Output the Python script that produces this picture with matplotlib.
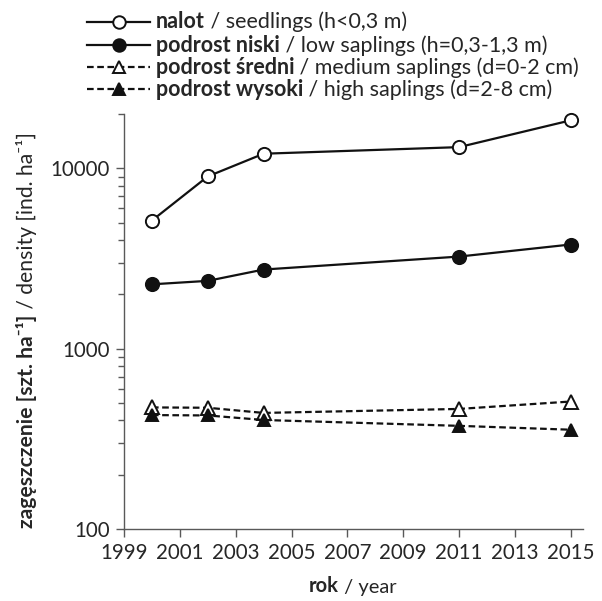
import matplotlib
matplotlib.use("Agg")
import matplotlib.pyplot as plt
from matplotlib.lines import Line2D
from matplotlib.ticker import FixedLocator, LogLocator, NullFormatter

plt.rcParams['font.family'] = ['Lato', 'DejaVu Sans']

# data
years = [2000, 2002, 2004, 2011, 2015]
seedlings = [5140, 9030, 12070, 13130, 18490]
low_saplings = [2275, 2378, 2748, 3243, 3784]
medium_saplings = [472, 470, 440, 463, 509]
high_saplings = [428, 426, 402, 373, 355]

series_bold = ['nalot', 'podrost niski', 'podrost średni', 'podrost wysoki']
series_rest = [' / seedlings (h<0,3 m)', ' / low saplings (h=0,3-1,3 m)',
               ' / medium saplings (d=0-2 cm)', ' / high saplings (d=2-8 cm)']
x_ticks = [1999, 2001, 2003, 2005, 2007, 2009, 2011, 2013, 2015]
y_ticks = [100, 1000, 10000]

ink = '#111111'
axis_col = '#595959'
text_col = '#262626'

styles = [
    dict(ls='-', marker='o', mfc='white'),
    dict(ls='-', marker='o', mfc=ink),
    dict(ls=(0, (3, 1.6)), marker='^', mfc='white'),
    dict(ls=(0, (3, 1.6)), marker='^', mfc=ink),
]
msizes = [9.5, 9.5, 9.5, 9.0]

fig = plt.figure(figsize=(6.02, 6.01), dpi=100)
ax = fig.add_axes([0.206, 0.120, 0.762, 0.690])

for vals, st, ms in zip([seedlings, low_saplings, medium_saplings, high_saplings], styles, msizes):
    ax.plot(years, vals, color=ink, lw=1.6, linestyle=st['ls'], marker=st['marker'],
            markersize=ms, markerfacecolor=st['mfc'], markeredgecolor=ink,
            markeredgewidth=1.4, clip_on=False, zorder=3)

ax.set_yscale('log')
ax.set_ylim(100, 20000)
ax.set_xlim(1999, 2015.43)
ax.xaxis.set_major_locator(FixedLocator(x_ticks))
ax.yaxis.set_major_locator(FixedLocator(y_ticks))
ax.set_yticklabels([str(v) for v in y_ticks])
ax.yaxis.set_minor_locator(LogLocator(base=10, subs=range(2, 10)))
ax.yaxis.set_minor_formatter(NullFormatter())

for s in ['top', 'right']:
    ax.spines[s].set_visible(False)
for s in ['left', 'bottom']:
    ax.spines[s].set_color(axis_col)
    ax.spines[s].set_linewidth(1.0)
ax.tick_params(axis='both', which='major', direction='out', length=6, width=1.0,
               color=axis_col, labelsize=14.8, labelcolor=text_col, pad=4)
ax.tick_params(axis='y', which='minor', direction='out', length=4, width=1.0, color=axis_col)

# x label (bold + normal)
xl = fig.text(0.0, 0.0, 'rok', fontsize=14.5, fontweight='bold', color=text_col,
              ha='left', va='baseline')
xr = ax.annotate(' / year', xy=(1, 0), xycoords=xl, ha='left', va='bottom',
                 fontsize=14.5, color=text_col)
fig.canvas.draw()
r = fig.canvas.get_renderer()
w1 = xl.get_window_extent(r).width
w2 = xr.get_window_extent(r).width
xl.set_position(((353 - (w1 + w2) / 2) / 602, 1 - 592 / 601))

# y label (bold + normal), rotated
yl = fig.text(0.0, 0.0, 'zagęszczenie [szt. ha⁻¹]', fontsize=15.2, fontweight='bold',
              color=text_col, rotation=90, ha='center', va='bottom')
yr = ax.annotate(' / density [ind. ha⁻¹]', xy=(0.5, 1), xycoords=yl, ha='center',
                 va='bottom', rotation=90, fontsize=15.2, color=text_col)
fig.canvas.draw()
h1 = yl.get_window_extent(r).height
h2 = yr.get_window_extent(r).height
yl.set_position((27 / 602, (601 - 330 - (h1 + h2) / 2) / 601))

# legend above the axes, drawn by hand
rows_y = [22, 45, 67, 89]
for yy, st, ms, b, rest in zip(rows_y, styles, msizes, series_bold, series_rest):
    fy = 1 - yy / 601
    fig.add_artist(Line2D([87 / 602, 150 / 602], [fy, fy], transform=fig.transFigure,
                          color=ink, lw=1.6, linestyle=st['ls']))
    fig.add_artist(Line2D([118.5 / 602], [fy], transform=fig.transFigure, color=ink,
                          marker=st['marker'], markersize=ms - 0.5, markerfacecolor=st['mfc'],
                          markeredgecolor=ink, markeredgewidth=1.4, linestyle='none'))
    tb = fig.text(156 / 602, fy, b, fontsize=15.5, fontweight='bold', color=text_col,
                  ha='left', va='center')
    ax.annotate(rest, xy=(1, 0), xycoords=tb, ha='left', va='bottom',
                fontsize=15.5, color=text_col)

fig.savefig('out.png', dpi=100)
